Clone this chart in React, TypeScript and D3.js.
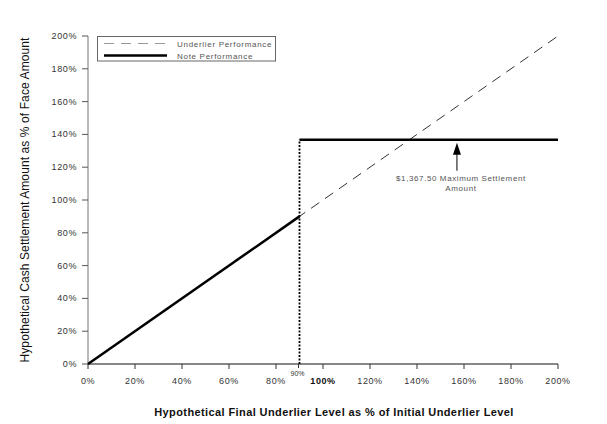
import { useEffect, useRef } from 'react'
import * as d3 from 'd3'

// underlier performance (dashed, 1:1 line)
const underlierX = [0, 200]
const underlierY = [0, 200]

// note performance: linear up to the 90% threshold, then capped
const noteLowX = [0, 90]
const noteLowY = [0, 90]
const threshold = 90
const capLevel = 136.75
const capEndX = 200

const xTicks = [0, 20, 40, 60, 80, 100, 120, 140, 160, 180, 200]
const yTicks = [0, 20, 40, 60, 80, 100, 120, 140, 160, 180, 200]
const boldXTick = 100

const legendLabels = ['Underlier Performance', 'Note Performance']
const annotationLines = ['$1,367.50 Maximum Settlement', 'Amount']
const annotationX = 157

const xTitle = 'Hypothetical Final Underlier Level as % of Initial Underlier Level'
const yTitle = 'Hypothetical Cash Settlement Amount as % of Face Amount'

export default function App() {
  const ref = useRef<SVGSVGElement>(null)

  useEffect(() => {
    if (!ref.current) return
    const svg = d3.select(ref.current)
    svg.selectAll('*').remove()

    const width = 607
    const height = 424
    svg.attr('width', width).attr('height', height)

    const font = '"Liberation Sans", Arial, sans-serif'
    const x = d3.scaleLinear().domain([0, 200]).range([88, 558])
    const y = d3.scaleLinear().domain([0, 200]).range([364, 36])

    svg.append('rect').attr('width', width).attr('height', height).attr('fill', 'white')

    // y axis
    svg.append('line')
      .attr('x1', x(0)).attr('x2', x(0))
      .attr('y1', y(0)).attr('y2', y(200))
      .attr('stroke', '#777').attr('stroke-width', 1)
    yTicks.forEach(t => {
      svg.append('line')
        .attr('x1', x(0) - 6).attr('x2', x(0))
        .attr('y1', y(t)).attr('y2', y(t))
        .attr('stroke', '#555').attr('stroke-width', 1)
      svg.append('text')
        .attr('x', x(0) - 11).attr('y', y(t) + 3)
        .attr('text-anchor', 'end')
        .style('font-family', font).style('font-size', '9px')
        .style('letter-spacing', '0.6px')
        .attr('fill', '#333')
        .text(`${t}%`)
    })

    // x axis
    svg.append('line')
      .attr('x1', x(0)).attr('x2', x(200))
      .attr('y1', y(0)).attr('y2', y(0))
      .attr('stroke', '#111').attr('stroke-width', 1)
    xTicks.forEach(t => {
      svg.append('line')
        .attr('x1', x(t)).attr('x2', x(t))
        .attr('y1', y(0)).attr('y2', y(0) + 5)
        .attr('stroke', '#333').attr('stroke-width', 1)
      svg.append('text')
        .attr('x', x(t)).attr('y', y(0) + 20)
        .attr('text-anchor', 'middle')
        .style('font-family', font).style('font-size', '9px')
        .style('letter-spacing', '0.6px')
        .style('font-weight', t === boldXTick ? 'bold' : 'normal')
        .attr('fill', t === boldXTick ? '#111' : '#333')
        .text(`${t}%`)
    })
    // small threshold tick + label
    svg.append('line')
      .attr('x1', x(threshold) - 1).attr('x2', x(threshold) - 1)
      .attr('y1', y(0)).attr('y2', y(0) + 4)
      .attr('stroke', '#333')
    svg.append('text')
      .attr('x', x(threshold) - 2).attr('y', y(0) + 12)
      .attr('text-anchor', 'middle')
      .style('font-family', font).style('font-size', '7px')
      .attr('fill', '#333')
      .text(`${threshold}%`)

    const line = d3.line<[number, number]>()
      .x(d => x(d[0]))
      .y(d => y(d[1]))

    // underlier dashed
    svg.append('path')
      .datum(underlierX.map((v, i) => [v, underlierY[i]] as [number, number]))
      .attr('d', line)
      .attr('fill', 'none')
      .attr('stroke', '#333')
      .attr('stroke-width', 1)
      .attr('stroke-dasharray', '10,7')

    // note performance below threshold
    svg.append('path')
      .datum(noteLowX.map((v, i) => [v, noteLowY[i]] as [number, number]))
      .attr('d', line)
      .attr('fill', 'none')
      .attr('stroke', '#000')
      .attr('stroke-width', 2.5)

    // dotted jump
    svg.append('path')
      .datum([[threshold, 0], [threshold, capLevel]] as [number, number][])
      .attr('d', line)
      .attr('fill', 'none')
      .attr('stroke', '#000')
      .attr('stroke-width', 1.8)
      .attr('stroke-dasharray', '2,1.5')

    // cap line
    svg.append('path')
      .datum([[threshold, capLevel], [capEndX, capLevel]] as [number, number][])
      .attr('d', line)
      .attr('fill', 'none')
      .attr('stroke', '#000')
      .attr('stroke-width', 2.5)

    // annotation arrow
    const ax = x(annotationX)
    const ay = y(capLevel)
    svg.append('path')
      .attr('d', `M${ax},${ay + 3} L${ax - 4},${ay + 15} L${ax + 4},${ay + 15} Z`)
      .attr('fill', '#000')
    svg.append('line')
      .attr('x1', ax).attr('x2', ax)
      .attr('y1', ay + 14).attr('y2', ay + 31)
      .attr('stroke', '#000').attr('stroke-width', 1)
    annotationLines.forEach((s, i) => {
      svg.append('text')
        .attr('x', ax + 4).attr('y', ay + 41 + i * 10)
        .attr('text-anchor', 'middle')
        .style('font-family', font).style('font-size', '8px')
        .style('letter-spacing', '0.6px')
        .attr('fill', '#555')
        .text(s)
    })

    // legend
    const lg = svg.append('g')
    lg.append('rect')
      .attr('x', 97.5).attr('y', 36.5).attr('width', 178).attr('height', 24.5)
      .attr('fill', 'white').attr('stroke', '#666').attr('stroke-width', 1)
    lg.append('line')
      .attr('x1', 104).attr('x2', 167).attr('y1', 43.5).attr('y2', 43.5)
      .attr('stroke', '#999').attr('stroke-width', 1.2)
      .attr('stroke-dasharray', '10,7')
    lg.append('line')
      .attr('x1', 104).attr('x2', 167).attr('y1', 55.5).attr('y2', 55.5)
      .attr('stroke', '#000').attr('stroke-width', 2.5)
    legendLabels.forEach((s, i) => {
      lg.append('text')
        .attr('x', 177).attr('y', 46.5 + i * 12)
        .style('font-family', font).style('font-size', '8px')
        .style('letter-spacing', '0.7px')
        .attr('fill', '#555')
        .text(s)
    })

    // axis titles
    svg.append('text')
      .attr('x', 334).attr('y', 416)
      .attr('text-anchor', 'middle')
      .style('font-family', font).style('font-size', '11px')
      .style('font-weight', 'bold')
      .style('letter-spacing', '0.4px')
      .attr('fill', '#111')
      .text(xTitle)
    svg.append('text')
      .attr('transform', 'translate(29,200) rotate(-90)')
      .attr('text-anchor', 'middle')
      .style('font-family', font).style('font-size', '12px')
      .style('letter-spacing', '0.1px')
      .attr('fill', '#111')
      .text(yTitle)
  }, [])

  return (
    <div style={{ position: 'absolute', left: 0, top: 0 }}>
      <svg ref={ref}></svg>
    </div>
  )
}
